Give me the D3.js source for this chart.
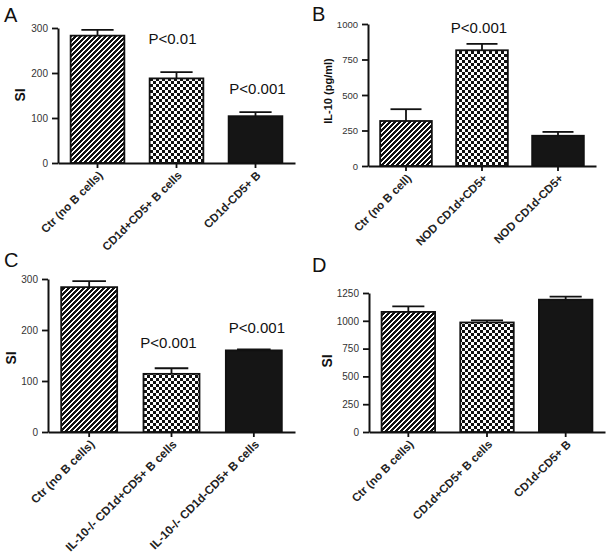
<!DOCTYPE html>
<html>
<head>
<meta charset="utf-8">
<script src="https://cdn.jsdelivr.net/npm/d3@7"></script>
<style>
  html, body { margin: 0; padding: 0; background: #fff; }
  svg { display: block; font-family: "Liberation Sans", Arial, sans-serif; }
</style>
</head>
<body>
<svg id="chart" width="611" height="557"></svg>
<script>
// ---- Data ----
const categoriesA = ["Ctr (no B cells)", "CD1d+CD5+ B cells", "CD1d-CD5+ B"];
const valuesA = [283, 188, 104];
const errorsA = [13, 14, 9];
const ticksA = [0, 100, 200, 300];

const categoriesB = ["Ctr (no B cell)", "NOD CD1d+CD5+", "NOD CD1d-CD5+"];
const valuesB = [317, 815, 213];
const errorsB = [83, 45, 27];
const ticksB = [0, 250, 500, 750, 1000];

const categoriesC = ["Ctr (no B cells)", "IL-10-/- CD1d+CD5+ B cells", "IL-10-/- CD1d-CD5+ B cells"];
const valuesC = [284, 114, 160];
const errorsC = [12, 11, 2];
const ticksC = [0, 100, 200, 300];

const categoriesD = ["Ctr (no B cells)", "CD1d+CD5+ B cells", "CD1d-CD5+ B"];
const valuesD = [1080, 985, 1190];
const errorsD = [50, 18, 27];
const ticksD = [0, 250, 500, 750, 1000, 1250];

const fills = ["url(#stripes)", "url(#checks)", "#151515"];

const svg = d3.select("#chart");
const defs = svg.append("defs");

// diagonal stripes "/" built from pixels
const sN = 5;
const sp = defs.append("pattern").attr("id", "stripes")
  .attr("patternUnits", "userSpaceOnUse").attr("width", sN).attr("height", sN);
sp.append("rect").attr("width", sN).attr("height", sN).attr("fill", "#fff");
for (let r = 0; r < sN; r++) {
  for (let c = 0; c < sN; c++) {
    if ((r + c) % sN < 3) {
      sp.append("rect").attr("x", c).attr("y", r).attr("width", 1).attr("height", 1)
        .attr("fill", "#111").attr("shape-rendering", "crispEdges");
    }
  }
}

// checkerboard
const cs = 3;
const cp = defs.append("pattern").attr("id", "checks")
  .attr("patternUnits", "userSpaceOnUse").attr("width", cs * 2).attr("height", cs * 2);
cp.append("rect").attr("width", cs * 2).attr("height", cs * 2).attr("fill", "#fff");
cp.append("rect").attr("width", cs).attr("height", cs).attr("fill", "#111").attr("shape-rendering", "crispEdges");
cp.append("rect").attr("x", cs).attr("y", cs).attr("width", cs).attr("height", cs).attr("fill", "#111").attr("shape-rendering", "crispEdges");

function panel(cfg) {
  const g = svg.append("g");
  const x = d3.scaleBand().domain(cfg.cats).range([cfg.x0, cfg.x1])
    .paddingInner(0.32).paddingOuter(0.16);
  const y = d3.scaleLinear().domain([0, cfg.ticks[cfg.ticks.length - 1]]).range([cfg.yb, cfg.yt]);
  const bw = x.bandwidth();

  // bars
  g.selectAll("rect.bar").data(cfg.cats).join("rect")
    .attr("x", d => x(d))
    .attr("y", (d, i) => y(cfg.vals[i]))
    .attr("width", bw)
    .attr("height", (d, i) => y(0) - y(cfg.vals[i]))
    .attr("fill", (d, i) => fills[i])
    .attr("stroke", "#111").attr("stroke-width", 1.8);

  // error bars (upper only)
  const eb = g.selectAll("g.err").data(cfg.cats).join("g");
  eb.append("line")
    .attr("x1", d => x(d) + bw / 2).attr("x2", d => x(d) + bw / 2)
    .attr("y1", (d, i) => y(cfg.vals[i])).attr("y2", (d, i) => y(cfg.vals[i] + cfg.errs[i]))
    .attr("stroke", "#111").attr("stroke-width", 1.8);
  eb.append("line")
    .attr("x1", d => x(d) + bw / 2 - bw * 0.3).attr("x2", d => x(d) + bw / 2 + bw * 0.3)
    .attr("y1", (d, i) => y(cfg.vals[i] + cfg.errs[i])).attr("y2", (d, i) => y(cfg.vals[i] + cfg.errs[i]))
    .attr("stroke", "#111").attr("stroke-width", 1.8);

  // y axis
  const ya = g.append("g").attr("transform", `translate(${cfg.x0},0)`)
    .call(d3.axisLeft(y).tickValues(cfg.ticks).tickFormat(d3.format("d"))
      .tickSize(6).tickPadding(4).tickSizeOuter(0));
  ya.select(".domain").attr("stroke", "#111").attr("stroke-width", 2);
  ya.selectAll(".tick line").attr("stroke", "#111").attr("stroke-width", 1.8);
  ya.selectAll(".tick text").attr("fill", "#333").style("font-size", cfg.tickFs + "px")
    .style("font-family", "'Liberation Sans', Arial, sans-serif");

  // x axis
  const xa = g.append("g").attr("transform", `translate(0,${cfg.yb})`)
    .call(d3.axisBottom(x).tickSize(5).tickSizeOuter(0));
  xa.select(".domain").attr("stroke", "#111").attr("stroke-width", 2);
  xa.selectAll(".tick line").attr("stroke", "#111").attr("stroke-width", 1.8);
  xa.selectAll(".tick text")
    .attr("fill", "#222")
    .style("font-size", cfg.labFs + "px").style("font-weight", "bold")
    .style("font-family", "'Liberation Sans', Arial, sans-serif")
    .attr("text-anchor", "end")
    .attr("dy", null).attr("y", null)
    .attr("transform", "translate(6,13) rotate(-45)");

  // y title
  g.append("text")
    .attr("transform", `translate(${cfg.titleX},${cfg.titleY}) rotate(-90)`)
    .attr("text-anchor", "middle").attr("dy", "0.35em")
    .attr("fill", "#111").style("font-weight", "bold").style("font-size", cfg.titleFs + "px")
    .text(cfg.title);

  // panel letter
  g.append("text").attr("x", cfg.letterX).attr("y", cfg.letterY)
    .attr("fill", "#111").style("font-size", "20px").text(cfg.letter);

  // p-value annotations
  g.selectAll("text.p").data(cfg.notes).join("text")
    .attr("x", d => x(cfg.cats[d.i]) + bw / 2 + (d.dx || 0))
    .attr("y", d => y(d.v))
    .attr("text-anchor", "middle").attr("fill", "#111")
    .style("font-size", "15px").text(d => d.t);
}

panel({ cats: categoriesA, vals: valuesA, errs: errorsA, ticks: ticksA,
  x0: 58, x1: 295, yb: 163, yt: 28, tickFs: 10, labFs: 11.5,
  title: "SI", titleX: 20, titleY: 95, titleFs: 14,
  letter: "A", letterX: 4, letterY: 22,
  notes: [{ i: 1, v: 264, t: "P<0.01", dx: -4 }, { i: 2, v: 153, t: "P<0.001", dx: 2 }] });

panel({ cats: categoriesB, vals: valuesB, errs: errorsB, ticks: ticksB,
  x0: 368, x1: 596, yb: 166, yt: 24, tickFs: 9.5, labFs: 11.5,
  title: "IL-10 (pg/ml)", titleX: 328, titleY: 91, titleFs: 11,
  letter: "B", letterX: 312, letterY: 21,
  notes: [{ i: 1, v: 937, t: "P<0.001", dx: -3 }] });

panel({ cats: categoriesC, vals: valuesC, errs: errorsC, ticks: ticksC,
  x0: 48, x1: 295, yb: 432, yt: 279, tickFs: 10, labFs: 11.8,
  title: "SI", titleX: 11, titleY: 358, titleFs: 14,
  letter: "C", letterX: 4, letterY: 267,
  notes: [{ i: 1, v: 165, t: "P<0.001", dx: -3 }, { i: 2, v: 194, t: "P<0.001", dx: 3 }] });

panel({ cats: categoriesD, vals: valuesD, errs: errorsD, ticks: ticksD,
  x0: 369, x1: 605, yb: 432, yt: 293, tickFs: 10, labFs: 11.5,
  title: "SI", titleX: 327, titleY: 361, titleFs: 14,
  letter: "D", letterX: 312, letterY: 272,
  notes: [] });
</script>
</body>
</html>
